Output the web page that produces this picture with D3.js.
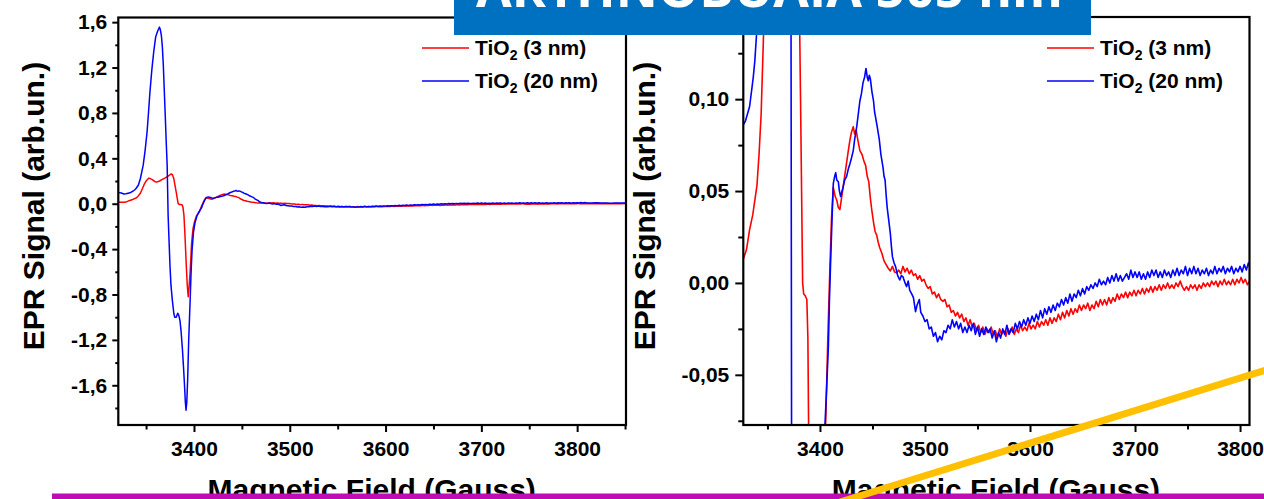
<!DOCTYPE html>
<html><head><meta charset="utf-8">
<script src="https://cdn.jsdelivr.net/npm/d3@7"></script>
<style>
html,body{margin:0;padding:0;background:#fff;}
svg{display:block;font-family:"Liberation Sans",Arial,sans-serif;}
</style></head>
<body>
<svg id="chart" width="1264" height="499"></svg>
<script>
// ---------------- DATA ----------------
const seriesNames = ["TiO2 (3 nm)", "TiO2 (20 nm)"];
const seriesColors = ["#ff0000", "#0000ff"];

// [magnetic field (G), EPR signal (arb.un.)]
const red3nm = [
[3321,0.014],[3324,0.012],[3327,0.013],[3330,0.018],[3333,0.029],[3336,0.037],[3338,0.045],[3340,0.053],
[3342,0.070],[3344,0.092],[3346,0.13],[3348,0.17],[3350,0.20],[3353,0.226],[3356,0.214],[3359,0.196],
[3361,0.19],[3364,0.20],[3367,0.214],[3370,0.228],[3373,0.243],[3376,0.262],[3377.5,0.255],[3379,0.22],
[3380,0.17],[3381.5,0.10],[3382.5,0.05],[3383.5,0.0],[3384.5,-0.006],[3386,-0.007],[3387.5,-0.009],
[3388.5,-0.03],[3389.5,-0.1],[3390.5,-0.26],[3392,-0.55],[3393,-0.72],[3394,-0.82],[3395,-0.72],
[3396,-0.6],[3397.5,-0.35],[3399,-0.22],[3400.5,-0.16],[3402.5,-0.11],[3404,-0.09],[3405.5,-0.075],
[3407.5,-0.03],[3409.5,0.009],[3411,0.035],[3412.7,0.052],[3414.5,0.047],[3416,0.045],[3417.5,0.041],
[3419,0.040],[3420.5,0.046],[3422,0.052],[3424,0.060],[3425.5,0.066],[3427,0.072],[3428.6,0.078],
[3430,0.082],[3431.7,0.085],[3433,0.081],[3434.5,0.083],[3436,0.078],[3438,0.072],[3440,0.070],
[3442,0.066],[3443.5,0.064],[3445,0.058],[3446.5,0.055],[3448,0.046],[3449.5,0.039],[3451,0.033],
[3452.5,0.028],[3454,0.026],[3455.5,0.022],[3457,0.019],[3459,0.016],[3461,0.012],[3463,0.010],
[3465,0.008],[3467,0.0065],[3469,0.009],[3471,0.006],[3473,0.0055],[3475,0.007],[3477,0.005],
[3479,0.009],[3481,0.006],[3483,0.008],[3485,0.005],[3487,0.007],[3489,0.004],[3491,0.005],
[3493,0.002],[3495,0.004],[3497,0.001],[3499,0.002],[3501,-0.001],[3503,-0.003],[3505,-0.002],
[3507,-0.006],[3509,-0.005],[3511,-0.008],[3513,-0.006],[3515,-0.009],[3517,-0.010],[3519,-0.009],
[3521,-0.013],[3523,-0.012],[3525,-0.016],[3527,-0.015],[3529,-0.018],[3531,-0.016],[3533,-0.019],
[3535,-0.017],[3537,-0.021],[3539,-0.019],[3541,-0.023],[3543,-0.020],[3545,-0.024],[3547,-0.022],
[3549,-0.026],[3551,-0.023],[3553,-0.027],[3555,-0.024],[3557,-0.028],[3559,-0.025],[3561,-0.027],
[3563,-0.024],[3565,-0.028],[3567,-0.026],[3569,-0.030],[3571,-0.025],[3573,-0.028],[3575,-0.026],
[3577,-0.029],[3579,-0.025],[3581,-0.027],[3583,-0.024],[3585,-0.028],[3587,-0.025],[3589,-0.027],
[3591,-0.023],[3593,-0.026],[3595,-0.024],[3597,-0.026],[3599,-0.022],[3601,-0.025],[3603,-0.023],
[3605,-0.025],[3607,-0.021],[3609,-0.024],[3611,-0.021],[3613,-0.023],[3615,-0.020],[3617,-0.023],
[3619,-0.019],[3621,-0.022],[3623,-0.019],[3625,-0.021],[3627,-0.017],[3629,-0.020],[3631,-0.016],
[3633,-0.019],[3635,-0.015],[3637,-0.018],[3639,-0.014],[3641,-0.017],[3643,-0.014],[3645,-0.016],
[3647,-0.012],[3649,-0.015],[3651,-0.012],[3653,-0.014],[3655,-0.011],[3657,-0.015],[3659,-0.012],
[3661,-0.014],[3663,-0.010],[3665,-0.013],[3667,-0.009],[3669,-0.012],[3671,-0.009],[3673,-0.012],
[3675,-0.008],[3677,-0.011],[3679,-0.008],[3681,-0.010],[3683,-0.006],[3685,-0.009],[3687,-0.006],
[3689,-0.008],[3691,-0.005],[3693,-0.008],[3695,-0.005],[3697,-0.007],[3699,-0.004],[3701,-0.007],
[3703,-0.004],[3705,-0.006],[3707,-0.003],[3709,-0.006],[3711,-0.003],[3713,-0.005],[3715,-0.002],
[3717,-0.005],[3719,-0.002],[3721,-0.004],[3723,-0.001],[3725,-0.004],[3727,-0.001],[3729,-0.003],
[3731,0.000],[3733,-0.003],[3735,-0.001],[3737,-0.003],[3739,0.000],[3741,-0.002],[3743,0.001],
[3745,-0.002],[3747,-0.004],[3749,-0.002],[3751,-0.004],[3753,-0.001],[3755,-0.003],[3757,-0.001],
[3759,-0.004],[3761,-0.001],[3763,-0.003],[3765,0.000],[3767,-0.002],[3769,0.000],[3771,-0.002],
[3773,0.001],[3775,-0.001],[3777,0.001],[3779,-0.002],[3781,0.001],[3783,-0.001],[3785,0.002],
[3787,-0.001],[3789,0.001],[3791,-0.001],[3793,0.002],[3795,-0.001],[3797,0.002],[3799,0.000],
[3801,0.003],[3803,0.000],[3805,0.002],[3807,-0.001],[3809,0.001],[3815,0.000],[3820,0.001],
[3825,0.000],[3830,0.001],[3835,0.000],[3840,0.001],[3845,0.000],[3851,0.001]
];

const blue20nm = [
[3321,0.100],[3324,0.095],[3327,0.086],[3329,0.088],[3330,0.090],[3331.5,0.093],[3333,0.096],[3335,0.105],
[3336.5,0.112],[3338,0.121],[3339.7,0.136],[3342,0.165],[3344,0.22],[3347,0.34],[3349,0.47],[3351,0.63],
[3352.5,0.80],[3354,0.98],[3356,1.18],[3358,1.34],[3360,1.47],[3362,1.52],[3364,1.556],[3365,1.53],
[3366,1.48],[3367,1.38],[3368,1.22],[3369,1.0],[3370,0.78],[3371,0.55],[3372,0.34],[3372.5,0.12],
[3373,-0.1],[3374,-0.33],[3375,-0.556],[3376,-0.72],[3377.4,-0.85],[3379,-0.97],[3380,-1.0],
[3381.5,-1.0],[3383,-0.965],[3384,-0.98],[3385.4,-1.03],[3386.5,-1.12],[3388,-1.29],[3389,-1.43],
[3390,-1.58],[3391,-1.75],[3391.7,-1.82],[3392.5,-1.75],[3393.4,-1.55],[3394.5,-1.2],[3396,-0.85],
[3397,-0.6],[3398,-0.41],[3399.5,-0.25],[3401,-0.17],[3403,-0.11],[3404.8,-0.077],[3406.5,-0.055],
[3408,-0.035],[3409,-0.01],[3410,0.009],[3411.5,0.035],[3412.7,0.054],[3414,0.058],[3415,0.060],
[3416,0.056],[3417.5,0.055],[3418.5,0.050],[3419.7,0.047],[3421,0.050],[3422,0.052],[3423.5,0.056],
[3425.4,0.058],[3427,0.062],[3428.6,0.065],[3430,0.068],[3431.7,0.072],[3433,0.078],[3435,0.085],
[3436.5,0.092],[3438,0.099],[3439.5,0.103],[3441,0.109],[3442.5,0.112],[3443.8,0.1167],[3445,0.112],
[3446,0.110],[3447,0.113],[3448,0.111],[3449.5,0.104],[3451,0.099],[3452,0.093],[3453,0.090],
[3454.5,0.085],[3456.5,0.078],[3458,0.070],[3460,0.063],[3461,0.058],[3462,0.056],[3463,0.048],
[3464,0.041],[3465.5,0.034],[3467,0.027],[3468,0.020],[3469,0.0143],[3470.5,0.011],[3472,0.0089],
[3474,0.004],[3476,0.0016],[3477.5,0.004],[3479,0.0034],[3481,0.000],[3482.5,-0.002],[3484,0.001],
[3485.5,-0.004],[3487,-0.0055],[3489,-0.008],[3491,-0.0156],[3492.5,-0.012],[3494.6,-0.009],
[3496,-0.016],[3498,-0.018],[3500,-0.021],[3502,-0.020],[3504,-0.025],[3506,-0.024],[3508,-0.029],
[3510,-0.027],[3512,-0.032],[3514,-0.029],[3516,-0.031],[3518,-0.026],[3520,-0.027],[3522,-0.023],
[3524,-0.025],[3526,-0.020],[3528,-0.024],[3530,-0.021],[3532,-0.025],[3534,-0.022],[3536,-0.027],
[3538,-0.024],[3540,-0.027],[3542,-0.023],[3544,-0.026],[3546,-0.022],[3548,-0.028],[3550,-0.024],
[3552,-0.029],[3554,-0.025],[3556,-0.028],[3558,-0.024],[3560,-0.027],[3562,-0.025],[3564,-0.030],
[3566,-0.026],[3568,-0.032],[3570,-0.027],[3572,-0.030],[3574,-0.025],[3576,-0.028],[3578,-0.023],
[3580,-0.028],[3582,-0.025],[3584,-0.027],[3586,-0.022],[3588,-0.025],[3590,-0.021],[3592,-0.024],
[3594,-0.020],[3596,-0.023],[3598,-0.019],[3600,-0.022],[3602,-0.018],[3604,-0.021],[3606,-0.017],
[3608,-0.020],[3610,-0.015],[3612,-0.019],[3614,-0.014],[3616,-0.017],[3618,-0.013],[3620,-0.016],
[3622,-0.012],[3624,-0.015],[3626,-0.011],[3628,-0.013],[3630,-0.009],[3632,-0.012],[3634,-0.008],
[3636,-0.011],[3638,-0.006],[3640,-0.010],[3642,-0.006],[3644,-0.008],[3646,-0.004],[3648,-0.007],
[3650,-0.003],[3652,-0.006],[3654,-0.002],[3656,-0.004],[3658,-0.001],[3660,-0.003],[3662,0.000],
[3664,-0.002],[3666,0.002],[3668,-0.001],[3670,0.001],[3672,-0.001],[3674,0.003],[3676,0.000],
[3678,0.004],[3680,0.001],[3682,0.005],[3684,0.001],[3686,0.004],[3688,0.001],[3690,0.003],
[3692,0.005],[3694,0.002],[3696,0.007],[3698,0.003],[3700,0.006],[3702,0.003],[3704,0.006],
[3706,0.002],[3708,0.005],[3710,0.002],[3712,0.006],[3714,0.003],[3716,0.007],[3718,0.004],
[3720,0.007],[3722,0.003],[3724,0.006],[3726,0.003],[3728,0.007],[3730,0.004],[3732,0.006],
[3734,0.003],[3736,0.007],[3738,0.004],[3740,0.008],[3742,0.004],[3744,0.007],[3746,0.005],
[3748,0.009],[3750,0.004],[3752,0.008],[3754,0.005],[3756,0.009],[3758,0.005],[3760,0.008],
[3762,0.004],[3764,0.007],[3766,0.005],[3768,0.008],[3770,0.004],[3772,0.007],[3774,0.005],
[3776,0.009],[3778,0.005],[3780,0.008],[3782,0.006],[3784,0.009],[3786,0.005],[3788,0.008],
[3790,0.006],[3792,0.009],[3794,0.005],[3796,0.008],[3798,0.006],[3800,0.009],[3802,0.006],
[3804,0.010],[3806,0.007],[3808,0.011],[3810,0.007],[3815,0.006],[3820,0.008],[3825,0.006],
[3830,0.007],[3835,0.005],[3840,0.007],[3845,0.006],[3851,0.007]
];

const xTicks = [3400, 3500, 3600, 3700, 3800];
const leftXMinor = [3350, 3450, 3550, 3650, 3750, 3850];
const rightXMinor = [3350, 3450, 3550, 3650, 3750];
const leftYTicks = [-1.6, -1.2, -0.8, -0.4, 0, 0.4, 0.8, 1.2, 1.6];
const leftYMinor = [-1.8, -1.4, -1.0, -0.6, -0.2, 0.2, 0.6, 1.0, 1.4];
const rightYTicks = [-0.05, 0, 0.05, 0.10];
const rightYMinor = [-0.075, -0.025, 0.025, 0.075, 0.125];
const leftXDomain = [3321, 3851];
const leftYDomain = [-1.95, 1.641];
const rightXDomain = [3327, 3809];
const rightYDomain = [-0.0773, 0.1447];
const xTitle = "Magnetic Field (Gauss)";
const yTitle = "EPR Signal (arb.un.)";
const bannerText = "ARTHNOBUAIA 505 nm";

// ---------------- DRAW ----------------
const svg = d3.select("#chart");
const comma = f => v => d3.format(f)(v).replace(".", ",").replace("−", "-");

function panel(cfg) {
  const x = d3.scaleLinear().domain(cfg.xDomain).range([cfg.left, cfg.right]);
  const y = d3.scaleLinear().domain(cfg.yDomain).range([cfg.bottom, cfg.top]);
  const g = svg.append("g");
  const clipId = "clip" + cfg.id;
  svg.append("defs").append("clipPath").attr("id", clipId)
    .append("rect").attr("x", cfg.left).attr("y", cfg.top)
    .attr("width", cfg.right - cfg.left).attr("height", cfg.bottom - cfg.top);

  const line = d3.line().x(d => x(d[0])).y(d => y(d[1]));
  const lines = g.append("g").attr("clip-path", `url(#${clipId})`);
  [red3nm, blue20nm].forEach((s, i) => {
    lines.append("path").datum(s).attr("d", line)
      .attr("fill", "none").attr("stroke", seriesColors[i])
      .attr("stroke-width", cfg.lw).attr("stroke-linejoin", "round");
  });

  // axes
  const ax = (axis, tr) => {
    const a = g.append("g").attr("transform", tr).call(axis);
    a.select(".domain").remove();
    a.selectAll("line").attr("stroke", "#000").attr("stroke-width", 2);
    a.selectAll("text").attr("font-size", 21).attr("font-weight", "bold")
      .attr("fill", "#000").attr("font-family", '"Liberation Sans",Arial,sans-serif');
    return a;
  };
  ax(d3.axisBottom(x).tickValues(xTicks).tickSize(7).tickPadding(9).tickFormat(d3.format("d")),
     `translate(0,${cfg.bottom})`);
  ax(d3.axisBottom(x).tickValues(cfg.xMinor).tickSize(4.5).tickFormat(""),
     `translate(0,${cfg.bottom})`);
  ax(d3.axisLeft(y).tickValues(cfg.yTicks).tickSize(cfg.ytick).tickPadding(cfg.ypad).tickFormat(comma(cfg.yfmt)),
     `translate(${cfg.left},0)`);
  ax(d3.axisLeft(y).tickValues(cfg.yMinor).tickSize(cfg.ytick - 3).tickFormat(""),
     `translate(${cfg.left},0)`);

  // frame
  g.append("rect").attr("x", cfg.left).attr("y", cfg.top)
    .attr("width", cfg.right - cfg.left).attr("height", cfg.bottom - cfg.top)
    .attr("fill", "none").attr("stroke", "#000").attr("stroke-width", 2.2);

  // legend
  seriesNames.forEach((name, i) => {
    const ly = 48 + i * 33;
    g.append("line").attr("x1", cfg.legX).attr("x2", cfg.legX + 47)
      .attr("y1", ly).attr("y2", ly).attr("stroke", seriesColors[i]).attr("stroke-width", 1.5);
    const t = g.append("text").attr("x", cfg.legX + 53).attr("y", ly + 7)
      .attr("font-size", 21).attr("font-weight", "bold").attr("fill", "#000");
    t.append("tspan").text("TiO");
    t.append("tspan").attr("dy", 5).attr("font-size", 14).text("2");
    t.append("tspan").attr("dy", -5).text(name.slice(4));
  });

  // axis titles
  g.append("text").attr("x", (cfg.left + cfg.right) / 2 - 0.5).attr("y", 499.5)
    .attr("text-anchor", "middle").attr("font-size", 30).attr("font-weight", "bold")
    .attr("fill", "#000").text(xTitle);
  g.append("text").attr("transform", `translate(${cfg.ytitleX},206) rotate(-90)`)
    .attr("text-anchor", "middle").attr("font-size", 30).attr("font-weight", "bold")
    .attr("fill", "#000").text(yTitle);
}

panel({id: "L", left: 118.3, right: 626, top: 17.5, bottom: 425,
  xDomain: leftXDomain, yDomain: leftYDomain, xMinor: leftXMinor,
  yTicks: leftYTicks, yMinor: leftYMinor, yfmt: ".1f", ytick: 6, ypad: 5,
  lw: 1.5, legX: 422, ytitleX: 43.5});
panel({id: "R", left: 743.3, right: 1249.5, top: 17, bottom: 425,
  xDomain: rightXDomain, yDomain: rightYDomain, xMinor: rightXMinor,
  yTicks: rightYTicks, yMinor: rightYMinor, yfmt: ".2f", ytick: 8, ypad: 6,
  lw: 1.6, legX: 1047, ytitleX: 655});

// overlays: banner, magenta bar, orange stroke
svg.append("rect").attr("x", 454).attr("y", 0).attr("width", 637).attr("height", 35).attr("fill", "#0070c0");
svg.append("text").attr("x", 476).attr("y", 7).attr("font-size", 52).attr("font-weight", "bold")
  .attr("font-family", '"Open Sans","Liberation Sans",Arial,sans-serif')
  .attr("textLength", 587).attr("lengthAdjust", "spacingAndGlyphs")
  .attr("fill", "#fff").text(bannerText);
svg.append("rect").attr("x", 52).attr("y", 493.5).attr("width", 1212).attr("height", 6).attr("fill", "#c00cb4");
svg.append("line").attr("x1", 840).attr("y1", 502).attr("x2", 1266).attr("y2", 370)
  .attr("stroke", "#ffc000").attr("stroke-width", 7);
</script>
</body></html>
